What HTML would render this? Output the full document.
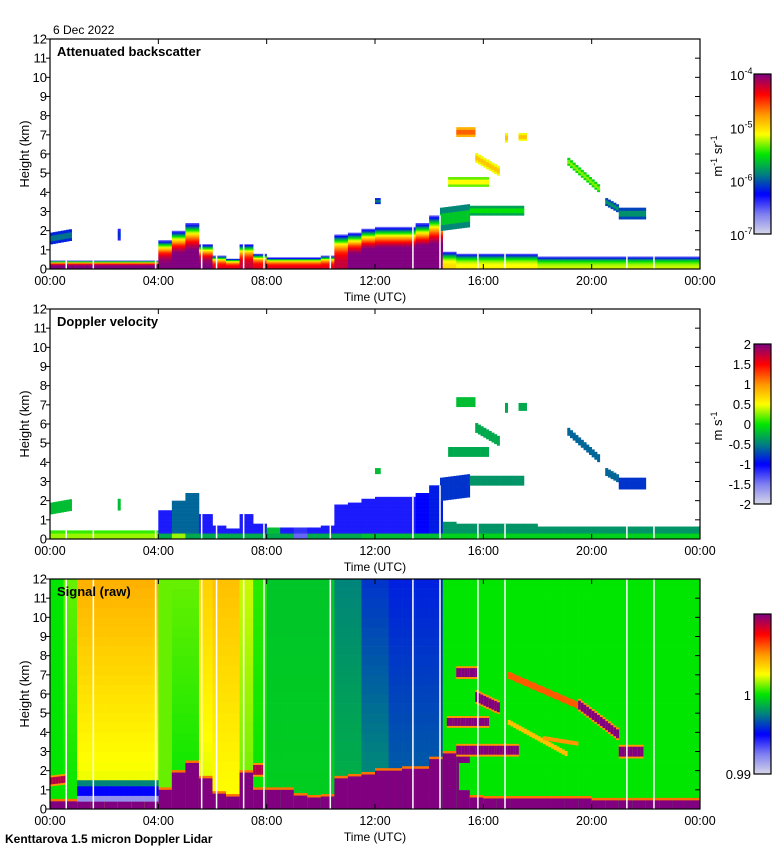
<!DOCTYPE html>
<html><head><meta charset="utf-8">
<style>
html,body{margin:0;padding:0;background:#fff;}
svg{display:block;font-family:"Liberation Sans",sans-serif;}
</style></head>
<body>
<svg id="chart" width="780" height="850" xmlns="http://www.w3.org/2000/svg"></svg>
<script>
// ===== data =====
const xTickLabels = ["00:00","04:00","08:00","12:00","16:00","20:00","00:00"];
const yTickLabels = [0,1,2,3,4,5,6,7,8,9,10,11,12];
const panelTitles = ["Attenuated backscatter","Doppler velocity","Signal (raw)"];
// boundary layer per half-hour column (48)
const blTop = [0.45,0.45,0.45,0.45,0.45,0.45,0.45,0.45,1.5,2.0,2.4,1.3,0.7,0.55,1.3,0.8,0.6,0.6,0.6,0.6,0.7,1.8,1.9,2.1,2.2,2.2,2.2,2.4,2.8,0.9,0.8,0.8,0.8,0.8,0.8,0.8,0.65,0.65,0.65,0.65,0.65,0.65,0.65,0.65,0.65,0.65,0.65,0.65];
const blBeta = [-3.8,-3.8,-3.8,-3.8,-3.8,-3.8,-3.8,-3.8,-4.0,-3.8,-3.8,-4.0,-4.3,-4.3,-4.2,-4.3,-4.3,-4.3,-4.3,-4.3,-4.3,-4.2,-3.8,-3.6,-3.6,-3.6,-3.6,-3.6,-3.7,-5.0,-5.1,-5.1,-5.1,-5.1,-5.1,-5.1,-5.2,-5.2,-5.2,-5.2,-5.2,-5.2,-5.2,-5.2,-5.2,-5.2,-5.2,-5.2];
const velBL = [0.1,0.1,0.1,0.1,0.1,0.1,0.1,0.1,-1.1,-0.6,-0.6,-1.1,-1.1,-1.1,-1.1,-1.1,-0.2,-1.1,-1.2,-1.1,-1.1,-1.1,-1.1,-1.1,-1.1,-1.1,-1.1,-1.0,-0.9,-0.4,-0.4,-0.4,-0.4,-0.4,-0.4,-0.4,-0.4,-0.4,-0.4,-0.4,-0.4,-0.4,-0.4,-0.4,-0.4,-0.4,-0.4,-0.4];
const velGround = [0.3,0.3,0.3,0.3,0.3,0.3,0.3,0.3,-0.3,0.3,-0.3,-0.3,-0.3,-0.3,-0.3,-0.3,-0.3,-0.3,-1.4,-0.3,-0.3,-0.3,-0.3,-0.2,-0.2,-0.2,-0.2,-0.2,-0.2,-0.1,-0.1,-0.1,-0.1,-0.1,-0.1,-0.1,-0.1,-0.1,-0.1,-0.1,-0.1,-0.1,-0.1,-0.1,-0.1,-0.1,-0.1,-0.1];
// elevated layers: [t0,t1,hBottom0,hBottom1,thickness,log10 beta,velocity]
const cloudLayers = [
 [0,0.8,1.3,1.5,0.6,-5.8,-0.2],
 [2.5,2.6,1.5,1.5,0.6,-6.0,-0.2],
 [12.0,12.2,3.4,3.4,0.3,-5.8,-0.2],
 [14.4,15.5,2.0,2.2,1.2,-5.5,-0.8],
 [15.5,17.5,2.8,2.8,0.5,-5.4,-0.4],
 [14.7,16.2,4.3,4.3,0.5,-5.0,-0.3],
 [15.7,16.6,5.55,4.8,0.5,-4.8,-0.3],
 [15.0,15.7,6.9,6.9,0.5,-4.5,-0.2],
 [16.8,16.9,6.6,6.6,0.5,-4.8,-0.3],
 [17.3,17.6,6.7,6.7,0.4,-4.8,-0.3],
 [19.1,20.3,5.4,3.9,0.4,-5.2,-0.6],
 [20.5,21.0,3.3,2.9,0.4,-5.7,-0.6],
 [21.0,22.0,2.6,2.6,0.6,-5.7,-0.8]
];
// signal background (0..1 colour scale) low / high altitude
const sigLow = [0.5,0.5,0.6,0.6,0.6,0.6,0.6,0.6,0.55,0.5,0.5,0.6,0.62,0.62,0.55,0.5,0.47,0.47,0.47,0.47,0.47,0.44,0.44,0.4,0.4,0.35,0.35,0.35,0.35,0.5,0.5,0.5,0.5,0.5,0.5,0.5,0.5,0.5,0.5,0.5,0.5,0.5,0.5,0.5,0.5,0.5,0.5,0.5];
const sigHigh = [0.5,0.55,0.72,0.72,0.72,0.72,0.72,0.72,0.55,0.55,0.55,0.68,0.7,0.7,0.6,0.52,0.46,0.46,0.46,0.46,0.46,0.38,0.38,0.3,0.3,0.28,0.28,0.28,0.28,0.5,0.5,0.5,0.5,0.5,0.5,0.5,0.5,0.5,0.5,0.5,0.5,0.5,0.5,0.5,0.5,0.5,0.5,0.5];
const sigGround = [0.4,0.4,0.4,0.4,0.4,0.4,0.4,0.4,1.0,1.9,2.4,1.6,0.8,0.65,1.9,1.0,1.0,1.0,0.7,0.6,0.65,1.6,1.7,1.8,2.0,2.0,2.1,2.1,2.6,2.9,2.9,0.6,0.55,0.55,0.55,0.55,0.55,0.55,0.55,0.55,0.45,0.45,0.45,0.45,0.45,0.45,0.45,0.45];
// signal layers: [t0,t1,hBottom0,hBottom1,thickness,value]
const sigLayers = [
 [1.0,4.0,0.4,0.4,0.3,0.1],
 [1.0,4.0,0.7,0.7,0.5,0.25],
 [1.0,4.0,1.2,1.2,0.3,0.38],
 [0,0.6,1.3,1.4,0.35,0.95],
 [7.5,7.9,1.8,1.8,0.5,0.95],
 [15.1,16.2,1.0,1.0,1.4,0.5],
 [15.0,17.3,2.85,2.85,0.45,1.0],
 [14.65,16.2,4.35,4.35,0.4,1.0],
 [15.7,16.6,5.6,5.0,0.5,1.0],
 [15.0,15.8,6.9,6.9,0.45,1.0],
 [16.9,19.5,6.8,5.2,0.35,0.8],
 [19.5,21.0,5.2,3.6,0.45,1.0],
 [21.0,21.9,2.75,2.75,0.5,1.0],
 [16.9,19.1,4.4,2.7,0.25,0.7],
 [18.2,19.5,3.6,3.3,0.2,0.75]
];
const gapTimes = [0.6,1.6,3.9,5.6,6.15,7.15,7.9,10.35,13.4,14.4,15.8,16.8,21.3,22.3];
const betaTicks = ["-4","-5","-6","-7"];
const velTicks = ["2","1.5","1","0.5","0","-0.5","-1","-1.5","-2"];

// ===== layout =====
const NS="http://www.w3.org/2000/svg";
const svg=document.getElementById('chart');
const X0=50,X1=700,PH=230,tops=[39,309,579];
const X=t=>X0+t*(X1-X0)/24;
const Y=(h,p)=>tops[p]+PH-h*PH/12;
const stops=[[0,[216,216,232]],[0.125,[128,128,240]],[0.25,[0,0,255]],[0.375,[0,128,128]],[0.5,[0,230,0]],[0.625,[255,255,0]],[0.75,[255,150,0]],[0.875,[255,0,0]],[1,[128,0,128]]];
function cmap(t){t=Math.max(0,Math.min(1,t));for(let i=1;i<stops.length;i++){if(t<=stops[i][0]){const a=stops[i-1],b=stops[i],f=(t-a[0])/(b[0]-a[0]);return 'rgb('+a[1].map((c,k)=>Math.round(c+(b[1][k]-c)*f)).join(',')+')';}}return 'rgb(128,0,128)';}
function el(tag,attrs,parent){const e=document.createElementNS(NS,tag);for(const k in attrs)e.setAttribute(k,attrs[k]);(parent||svg).appendChild(e);return e;}
function cell(g,t0,t1,h0,h1,p,color){const r=el('rect',{x:X(t0),y:Y(h1,p),width:Math.max(0.5,X(t1)-X(t0)+0.3),height:Math.max(0.5,Y(h0,p)-Y(h1,p)+0.3),fill:color},g);return r;}
const betaT=v=>(v+7)/3, velT=v=>(v+2)/4;

// ---- panel 1 & 2 data ----
for(let p=0;p<2;p++){
 const g=el('g',{});
 
 
 for(let i=0;i<48;i++){
  const top=blTop[i],base=blBeta[i],dh=0.06;
  for(let h=0;h<top;h+=dh){
   const f=Math.pow((h+dh/2)/top,3);
   let c;
   if(p===0) c=cmap(betaT(base-f*(base+6.6)));
   else c=cmap(velT(h<0.3?velGround[i]:velBL[i]));
   const r=cell(g,i*0.5,i*0.5+0.5,h,Math.min(top,h+dh),p,c);
   
   
  }
 }
 cloudLayers.forEach(L=>{
  const [t0,t1,hb0,hb1,th,b,v]=L;const st=0.1;
  for(let t=t0;t<t1-1e-6;t+=st){
   const hb=hb0+(hb1-hb0)*(t-t0)/Math.max(0.01,t1-t0);
   const n=4;
   for(let k=0;k<n;k++){
    const edge=Math.abs(k-(n-1)/2)/((n-1)/2);
    const c=p===0?cmap(betaT(b-edge*0.35)):cmap(velT(v));
    const r=cell(g,t,Math.min(t1,t+st),hb+th*k/n,hb+th*(k+1)/n,p,c);
    
    
   }
  }
 });
 gapTimes.forEach((t,j)=>{
  const i=Math.min(47,Math.floor(t/0.5));
  const r=el('rect',{x:X(t)-0.75,y:Y(blTop[i],p),width:1.5,height:Y(0,p)-Y(blTop[i],p),fill:'#fff'},g);
  
  
 });
}
// ---- panel 3 ----
{
 const p=2;const g=el('g',{});
 
 
 for(let i=0;i<48;i++){
  for(let h=0;h<12;h+=0.5){
   const v=sigLow[i]+(sigHigh[i]-sigLow[i])*(h+0.25)/12;
   const r=cell(g,i*0.5,i*0.5+0.5,h,h+0.5,p,cmap(v));
   
   
  }
  const eg=cell(g,i*0.5,i*0.5+0.5,sigGround[i],sigGround[i]+0.13,p,cmap(0.78));
  
  
  const gr=cell(g,i*0.5,i*0.5+0.5,0,sigGround[i],p,cmap(1));
  
  
 }
 sigLayers.forEach(L=>{
  const [t0,t1,hb0,hb1,th,val]=L;const st=0.1;
  for(let t=t0;t<t1-1e-6;t+=st){
   const hb=hb0+(hb1-hb0)*(t-t0)/Math.max(0.01,t1-t0);
   if(val>0.9){
    const e=cell(g,t,Math.min(t1,t+st),hb-0.1,hb+th+0.1,p,cmap(0.75));
    
    
   }
   const r=cell(g,t,Math.min(t1,t+st),hb,hb+th,p,cmap(val));
   
   
  }
 });
 gapTimes.forEach(t=>{
  const r=el('rect',{x:X(t)-0.75,y:Y(12,p),width:1.5,height:PH,fill:'#fff'},g);
  
  
 });
}
// ---- axes ----
for(let p=0;p<3;p++){
 const g=el('g',{});
 
 
 const fr=el('rect',{x:X0,y:tops[p],width:X1-X0,height:PH,fill:'none',stroke:'#000','stroke-width':1.2},g);
 
 
 yTickLabels.forEach(v=>{
  const y=Y(v,p);
  el('line',{x1:X0-4,x2:X0,y1:y,y2:y,stroke:'#000'},g);
  el('line',{x1:X1-5,x2:X1,y1:y,y2:y,stroke:'#000'},g);
  const t=el('text',{x:X0-3,y:y+4.5,'text-anchor':'end','font-size':13},g);
  t.textContent=v;
  
  
 });
 xTickLabels.forEach((s,j)=>{
  const x=X(j*4);
  el('line',{x1:x,x2:x,y1:tops[p],y2:tops[p]+5,stroke:'#000'},g);
  el('line',{x1:x,x2:x,y1:tops[p]+PH-5,y2:tops[p]+PH,stroke:'#000'},g);
  const t=el('text',{x:x,y:tops[p]+PH+16,'text-anchor':'middle','font-size':12.5},g);
  t.textContent=s;
  
  
 });
 const xt=el('text',{x:375,y:tops[p]+PH+32,'text-anchor':'middle','font-size':12},g);
 xt.textContent='Time (UTC)';
 
 
 const cy=tops[p]+PH/2;
 const yt=el('text',{x:0,y:0,'text-anchor':'middle','font-size':13,transform:'translate(29,'+cy+') rotate(-90)'},g);
 yt.textContent='Height (km)';
 
 
 const pt=el('text',{x:57,y:tops[p]+17,'font-size':13,'font-weight':'bold'},g);
 pt.textContent=panelTitles[p];
 
 
 // colorbar
 const cbTop=tops[p]+35,cbH=160;
 for(let k=0;k<80;k++){
  const r=el('rect',{x:754,y:cbTop+cbH-(k+1)*cbH/80,width:17,height:cbH/80+0.4,fill:cmap((k+0.5)/80)},g);
  
  
 }
 const cb=el('rect',{x:754,y:cbTop,width:17,height:cbH,fill:'none',stroke:'#000','stroke-width':1.2},g);
 
 
 if(p===0){
  betaTicks.forEach((s,j)=>{
   const y=cbTop+j*cbH/3;
   const t=el('text',{x:730,y:y+6,'text-anchor':'start','font-size':13},g);
   t.textContent='10';
   const sup=el('tspan',{dy:-6,'font-size':9},t);sup.textContent=s;
   
   
  });
  const u=el('text',{'text-anchor':'middle','font-size':13,transform:'translate(722,'+(cbTop+82)+') rotate(-90)'},g);
  u.innerHTML='m<tspan dy="-5" font-size="9">-1</tspan><tspan dy="5"> sr</tspan><tspan dy="-5" font-size="9">-1</tspan>';
  
  
 } else if(p===1){
  velTicks.forEach((s,j)=>{
   const y=cbTop+j*cbH/8;
   const t=el('text',{x:751,y:y+5,'text-anchor':'end','font-size':13},g);
   t.textContent=s;
   
   
  });
  const u=el('text',{'text-anchor':'middle','font-size':13,transform:'translate(722,'+(cbTop+82)+') rotate(-90)'},g);
  u.innerHTML='m s<tspan dy="-5" font-size="9">-1</tspan>';
  
  
 } else {
  [['1',cbTop+81],['0.99',cbTop+cbH]].forEach(a=>{
   const t=el('text',{x:751,y:a[1]+5,'text-anchor':'end','font-size':13},g);
   t.textContent=a[0];
   
   
  });
 }
}
const d=el('text',{x:53,y:34,'font-size':12});
d.textContent='6 Dec 2022';


const ft=el('text',{x:5,y:843,'font-size':12,'font-weight':'bold'});
ft.textContent='Kenttarova 1.5 micron Doppler Lidar';


</script>
</body></html>
